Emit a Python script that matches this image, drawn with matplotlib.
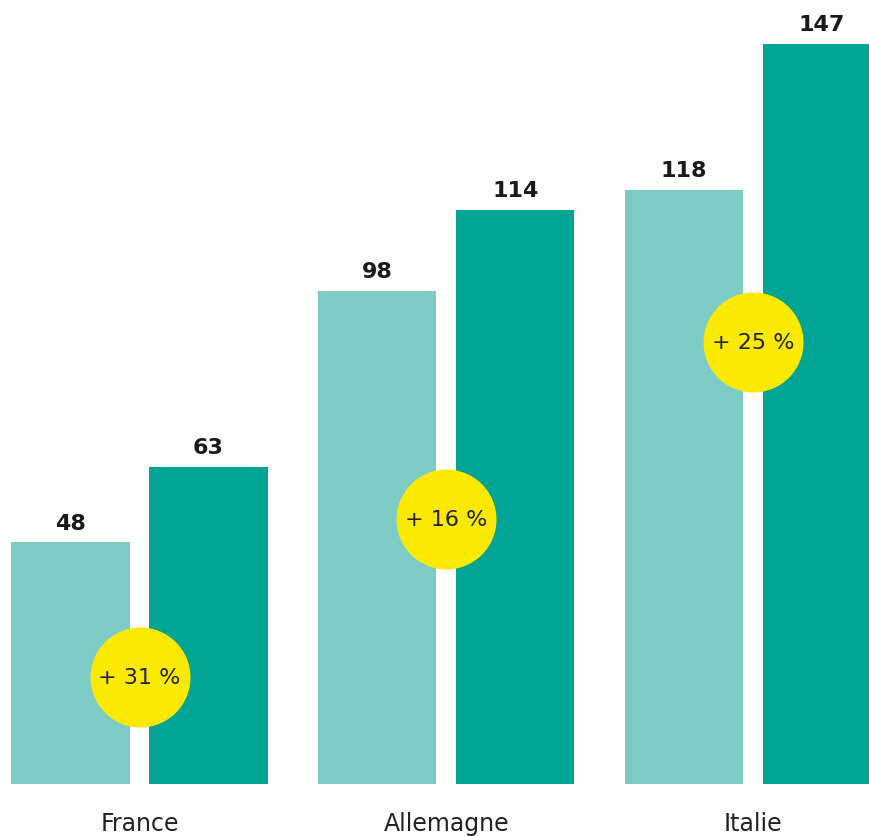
import matplotlib.pyplot as plt
import numpy as np

countries = ['France', 'Allemagne', 'Italie']
before = [48, 98, 118]
after = [63, 114, 147]
growth = ['+ 31 %', '+ 16 %', '+ 25 %']
badge_y = [21.3, 52.6, 87.8]

light = '#7ecbc6'
dark = '#00a596'
yellow = '#fbea00'

fig = plt.figure(figsize=(8.69, 8.37), dpi=100)
ax = fig.add_axes([0, 0, 1, 1])

x = np.arange(len(countries))
w = 0.385
off = 0.225
ax.bar(x - off, before, w, color=light, zorder=1)
ax.bar(x + off, after, w, color=dark, zorder=1)

for i in range(len(countries)):
    ax.annotate(str(before[i]), (x[i] - off, before[i]), xytext=(0, 7),
                textcoords='offset points', ha='center', va='bottom',
                fontsize=16, fontweight='bold', color='#1a1a1a')
    ax.annotate(str(after[i]), (x[i] + off, after[i]), xytext=(0, 7),
                textcoords='offset points', ha='center', va='bottom',
                fontsize=16, fontweight='bold', color='#1a1a1a')
    ax.annotate(countries[i], (x[i], 0), xytext=(0, -28),
                textcoords='offset points', ha='center', va='center',
                fontsize=17, color='#222222')

ax.scatter(x, badge_y, s=72 ** 2, color=yellow, zorder=3, linewidths=0)
for i in range(len(countries)):
    ax.text(x[i], badge_y[i], growth[i], ha='center', va='center',
            fontsize=16, color='#222222', zorder=4)

ax.set_xlim(-0.4548, 2.378)
ax.set_ylim(-10.33, 155.9)
ax.axis('off')

fig.savefig('out.png', dpi=100, facecolor='white')
